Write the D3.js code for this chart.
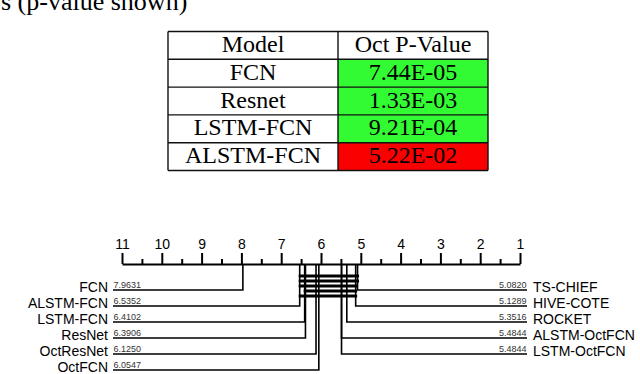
<!DOCTYPE html>
<html>
<head>
<meta charset="utf-8">
<script src="https://cdn.jsdelivr.net/npm/d3@7"></script>
<style>
  html, body { margin: 0; padding: 0; background: #fff; }
  svg { display: block; }
  .serif { font-family: "Liberation Serif", "Times New Roman", serif; }
  .sans { font-family: "Liberation Sans", Arial, sans-serif; }
</style>
</head>
<body>
<svg id="chart" width="640" height="374"></svg>
<script>
// caption fragment and p-value table
var captionText = 's (p-value shown)';
var tableHeader = ['Model', 'Oct P-Value'];
var tableModels = ['FCN', 'Resnet', 'LSTM-FCN', 'ALSTM-FCN'];
var pValues = ['7.44E-05', '1.33E-03', '9.21E-04', '5.22E-02'];
var significant = [true, true, true, false];

// critical difference diagram: average ranks
var leftNames = ['FCN', 'ALSTM-FCN', 'LSTM-FCN', 'ResNet', 'OctResNet', 'OctFCN'];
var leftRanks = [7.9631, 6.5352, 6.4102, 6.3906, 6.1250, 6.0547];
var rightNames = ['TS-CHIEF', 'HIVE-COTE', 'ROCKET', 'ALSTM-OctFCN', 'LSTM-OctFCN'];
var rightRanks = [5.0820, 5.1289, 5.3516, 5.4844, 5.4844];
var rankTicks = [11, 10, 9, 8, 7, 6, 5, 4, 3, 2, 1];
// cliques (no significant difference), from worst to best member
var cliqueFrom = ['ALSTM-FCN', 'ALSTM-FCN', 'ALSTM-FCN', 'LSTM-FCN', 'ALSTM-FCN'];
var cliqueTo = ['TS-CHIEF', 'TS-CHIEF', 'HIVE-COTE', 'HIVE-COTE', 'HIVE-COTE'];

var svg = d3.select('#chart');

// --- caption ---
svg.append('text')
    .attr('class', 'serif')
    .attr('x', 1)
    .attr('y', 10)
    .style('font-size', '26px')
    .text(captionText);

// --- table ---
var tbl = { left: 168, mid: 338, right: 488, top: 31.5, rowH: 27.8 };
var rows = [tableHeader].concat(tableModels.map((m, i) => [m, pValues[i]]));
var cols = [[tbl.left, tbl.mid], [tbl.mid, tbl.right]];

var tg = svg.append('g').attr('class', 'serif');
rows.forEach(function(r, i) {
  var y0 = tbl.top + i * tbl.rowH;
  if (i > 0) {
    tg.append('rect')
      .attr('x', tbl.mid).attr('y', y0)
      .attr('width', tbl.right - tbl.mid).attr('height', tbl.rowH)
      .attr('fill', significant[i - 1] ? '#33fb33' : '#fb0000');
  }
  r.forEach(function(txt, j) {
    tg.append('text')
      .attr('x', (cols[j][0] + cols[j][1]) / 2)
      .attr('y', y0 + 20.5)
      .attr('text-anchor', 'middle')
      .style('font-size', '24px')
      .text(txt);
  });
});
// grid lines
d3.range(rows.length + 1).forEach(function(i) {
  var y = tbl.top + i * tbl.rowH;
  tg.append('line').attr('x1', tbl.left).attr('x2', tbl.right)
    .attr('y1', y).attr('y2', y).attr('stroke', '#111').attr('stroke-width', 1.4);
});
[tbl.left, tbl.mid, tbl.right].forEach(function(x) {
  tg.append('line').attr('x1', x).attr('x2', x)
    .attr('y1', tbl.top).attr('y2', tbl.top + rows.length * tbl.rowH)
    .attr('stroke', '#111').attr('stroke-width', 1.4);
});

// --- CD diagram ---
var axisY = 264;
var x = d3.scaleLinear().domain([11, 1]).range([122, 520]);
var rowY = d3.scaleLinear().domain([0, 1]).range([290, 306]);

var cd = svg.append('g').attr('class', 'sans');

// minor ticks (half ranks)
var minor = cd.append('g')
    .attr('transform', 'translate(0,' + axisY + ')')
    .call(d3.axisTop(x).tickValues(d3.range(1.5, 11, 1)).tickSize(5).tickSizeOuter(0).tickFormat(''));
minor.select('.domain').remove();
minor.selectAll('line').attr('stroke', '#000').attr('stroke-width', 2);

var major = cd.append('g')
    .attr('transform', 'translate(0,' + axisY + ')')
    .call(d3.axisTop(x).tickValues(rankTicks).tickSize(11).tickSizeOuter(0).tickPadding(4).tickFormat(d3.format('d')));
major.select('.domain').attr('stroke', '#000').attr('stroke-width', 2.2);
major.selectAll('line').attr('stroke', '#000').attr('stroke-width', 2);
major.selectAll('text')
    .attr('fill', '#000')
    .style('font-family', '"Liberation Sans", Arial, sans-serif')
    .style('font-size', '14px');

// all models with a side flag
var models = leftNames.map((n, i) => ({ name: n, rank: leftRanks[i], side: 'left', i: i }))
  .concat(rightNames.map((n, i) => ({ name: n, rank: rightRanks[i], side: 'right', i: i })));
var rankOf = {};
models.forEach(d => { rankOf[d.name] = d.rank; });

// clique bars
cliqueFrom.forEach(function(a, k) {
  cd.append('line')
    .attr('x1', x(rankOf[a]) - 1)
    .attr('x2', x(rankOf[cliqueTo[k]]) + 1.5)
    .attr('y1', 276 + k * 5).attr('y2', 276 + k * 5)
    .attr('stroke', '#000').attr('stroke-width', 3);
});

var m = cd.selectAll('.model')
  .data(models)
  .enter()
  .append('g')
    .classed('model', true);

// elbow: vertical from axis, then horizontal to the label
m.append('path')
    .attr('fill', 'none')
    .attr('stroke', '#000')
    .attr('stroke-width', 1.6)
    .attr('d', d => {
      var px = x(d.rank), py = rowY(d.i);
      var ex = d.side === 'left' ? 113 : 527;
      return 'M' + px + ',' + axisY + 'V' + py + 'H' + ex;
    });

m.append('text')
    .attr('x', d => d.side === 'left' ? 108 : 533)
    .attr('y', d => rowY(d.i) + 2)
    .attr('text-anchor', d => d.side === 'left' ? 'end' : 'start')
    .style('font-size', '14px')
    .text(d => d.name);

m.append('text')
    .attr('x', d => d.side === 'left' ? 113.5 : 526.5)
    .attr('y', d => rowY(d.i) - 2)
    .attr('text-anchor', d => d.side === 'left' ? 'start' : 'end')
    .attr('fill', '#333')
    .style('font-size', '9px')
    .text(d => d.rank.toFixed(4));
</script>
</body>
</html>
